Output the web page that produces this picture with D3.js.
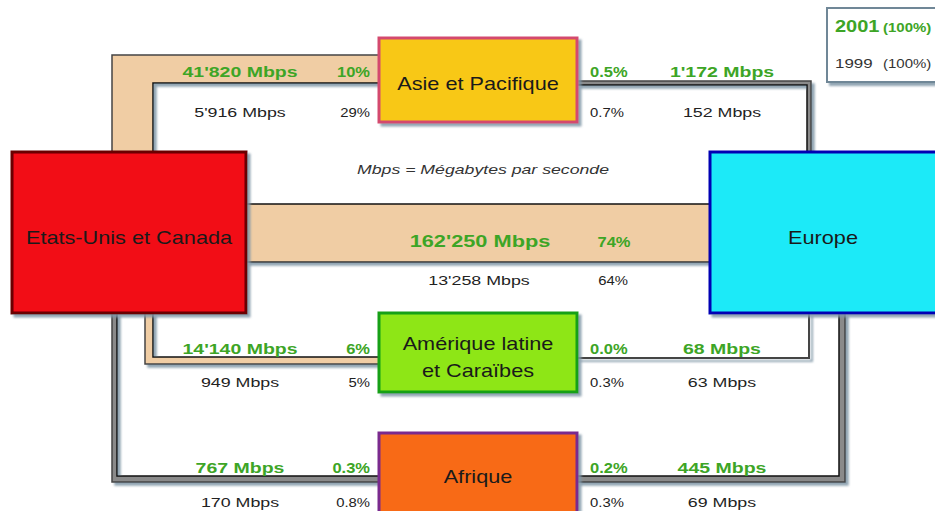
<!DOCTYPE html>
<html>
<head>
<meta charset="utf-8">
<script src="https://cdn.jsdelivr.net/npm/d3@7"></script>
<style>
  body { margin: 0; background: #fff; }
  svg { display: block; font-family: "Liberation Sans", Arial, sans-serif; }
</style>
</head>
<body>
<div id="chart"></div>
<script>
// data
var regions = ["Etats-Unis et Canada", "Europe", "Asie et Pacifique", "Amérique latine et Caraïbes", "Afrique"];
var flowFrom = ["Etats-Unis et Canada", "Asie et Pacifique", "Etats-Unis et Canada", "Etats-Unis et Canada", "Amérique latine et Caraïbes", "Etats-Unis et Canada", "Afrique"];
var flowTo = ["Asie et Pacifique", "Europe", "Europe", "Amérique latine et Caraïbes", "Europe", "Afrique", "Europe"];
var mbps2001 = [41820, 1172, 162250, 14140, 68, 767, 445];
var mbps1999 = [5916, 152, 13258, 949, 63, 170, 69];
var pct2001 = [10, 0.5, 74, 6, 0.0, 0.3, 0.2];
var pct1999 = [29, 0.7, 64, 5, 0.3, 0.8, 0.3];
var years = ["2001", "1999"];
var yearTotals = [100, 100];
var note = "Mbps = Mégabytes par seconde";

var width = 935, height = 511;
var green = "#3da526", tan = "#f0cda4";

// layout of boxes
var nodeBox = {
  "Etats-Unis et Canada": { x: 12, y: 152, w: 234, h: 161, fill: "#f20a14", stroke: "#6a0000", lines: ["Etats-Unis et Canada"], ty: 244 },
  "Europe": { x: 710, y: 152, w: 240, h: 161, fill: "#1eeaf8", stroke: "#0000b4", lines: ["Europe"], ty: 244, tx: 823 },
  "Asie et Pacifique": { x: 379, y: 38, w: 198, h: 84, fill: "#f8c818", stroke: "#d44a6e", lines: ["Asie et Pacifique"], ty: 90 },
  "Amérique latine et Caraïbes": { x: 379, y: 313, w: 198, h: 79, fill: "#8ee614", stroke: "#12a012", lines: ["Amérique latine", "et Caraïbes"], ty: 350 },
  "Afrique": { x: 379, y: 433, w: 198, h: 90, fill: "#f86a14", stroke: "#7a2a8e", lines: ["Afrique"], ty: 483 }
};

// layout of flow lanes (outer / inner corner of each elbow)
var lanes = [
  { type: "elbow", ox: 112, oy: 55, ix: 153, iy: 83, fill: tan, side: "left", gy: 77, by: 117 },
  { type: "elbow", ox: 811, oy: 81, ix: 807, iy: 85, fill: "#8a8a8a", side: "right", gy: 77, by: 117 },
  { type: "straight", y0: 204, y1: 262, fill: tan, side: "mid", gy: 247, by: 285 },
  { type: "elbow", ox: 145, oy: 364, ix: 153, iy: 357, fill: tan, side: "left", gy: 354, by: 387 },
  { type: "elbow", ox: 810, oy: 359, ix: 808, iy: 357, fill: "#444", side: "right", gy: 354, by: 387 },
  { type: "elbow", ox: 112, oy: 482, ix: 117, iy: 476, fill: "#8a8a8a", side: "left", gy: 473, by: 507 },
  { type: "elbow", ox: 845, oy: 482, ix: 839, iy: 476, fill: "#8a8a8a", side: "right", gy: 473, by: 507 }
];

var locale = d3.formatLocale({ decimal: ".", thousands: "'", grouping: [3], currency: ["", ""] });
var fmtNum = locale.format(",");
function fmtPct(v) { return (v >= 1 ? d3.format(".0f")(v) : d3.format(".1f")(v)) + "%"; }

var svg = d3.select("#chart").append("svg").attr("width", width).attr("height", height);

var defs = svg.append("defs");
var f = defs.append("filter").attr("id", "shadow").attr("x", "-10%").attr("y", "-10%").attr("width", "130%").attr("height", "130%");
f.append("feDropShadow").attr("dx", 3).attr("dy", 3).attr("stdDeviation", 0.8)
  .attr("flood-color", "#7f95a6").attr("flood-opacity", 0.85);

function label(g, x, y, str, o) {
  o = o || {};
  return g.append("text")
    .attr("transform", "translate(" + x + "," + y + ") scale(" + (o.sx || 1.3) + ",1)")
    .attr("text-anchor", o.anchor || "middle")
    .attr("font-size", o.size || 14)
    .attr("font-weight", o.weight || "normal")
    .attr("font-style", o.style || "normal")
    .attr("fill", o.fill || "#222")
    .text(str);
}

// flows
var flowG = svg.append("g");
var flows = flowFrom.map(function (s, i) {
  return { from: s, to: flowTo[i], v01: mbps2001[i], v99: mbps1999[i], p01: pct2001[i], p99: pct1999[i], lane: lanes[i] };
});

flows.forEach(function (d) {
  var L = d.lane, a = nodeBox[d.from], b = nodeBox[d.to];
  var g = flowG.append("g").attr("filter", "url(#shadow)");
  if (L.type === "straight") {
    g.append("rect").attr("x", a.x + a.w).attr("y", L.y0).attr("width", b.x - a.x - a.w).attr("height", L.y1 - L.y0).attr("fill", L.fill);
    g.append("line").attr("x1", a.x + a.w).attr("x2", b.x).attr("y1", L.y0).attr("y2", L.y0).attr("stroke", "#111").attr("stroke-width", 1.5);
    g.append("line").attr("x1", a.x + a.w).attr("x2", b.x).attr("y1", L.y1).attr("y2", L.y1).attr("stroke", "#333").attr("stroke-width", 1.5);
    return;
  }
  // node the lane leaves vertically from, and node it enters horizontally
  var vNode, hNode;
  if (L.side === "left") { vNode = a; hNode = b; } else { vNode = b; hNode = a; }
  var yA = L.oy < vNode.y ? vNode.y : vNode.y + vNode.h;
  var xB = L.ox < hNode.x ? hNode.x : hNode.x + hNode.w;
  var pts = [[L.ox, yA], [L.ox, L.oy], [xB, L.oy], [xB, L.iy], [L.ix, L.iy], [L.ix, yA]];
  g.append("path").attr("d", d3.line()(pts) + "Z").attr("fill", L.fill);
  if (L.fill !== "#444") {
    g.append("path").attr("d", d3.line()(pts.slice(0, 3))).attr("fill", "none").attr("stroke", "#444").attr("stroke-width", 1.5);
    g.append("path").attr("d", d3.line()(pts.slice(3))).attr("fill", "none").attr("stroke", "#111").attr("stroke-width", 1.5);
  }
});

// flow labels
var textG = svg.append("g");
flows.forEach(function (d) {
  var L = d.lane;
  if (L.side === "left") {
    label(textG, 240, L.gy, fmtNum(d.v01) + " Mbps", { fill: green, weight: "bold", size: 15 });
    label(textG, 370, L.gy, fmtPct(d.p01), { fill: green, weight: "bold", size: 15, anchor: "end", sx: 1.1 });
    label(textG, 240, L.by, fmtNum(d.v99) + " Mbps", { size: 13.5, sx: 1.32 });
    label(textG, 370, L.by, fmtPct(d.p99), { size: 13.5, anchor: "end", sx: 1.1 });
  } else if (L.side === "right") {
    label(textG, 590, L.gy, fmtPct(d.p01), { fill: green, weight: "bold", size: 15, anchor: "start", sx: 1.1 });
    label(textG, 722, L.gy, fmtNum(d.v01) + " Mbps", { fill: green, weight: "bold", size: 15 });
    label(textG, 590, L.by, fmtPct(d.p99), { size: 13.5, anchor: "start", sx: 1.1 });
    label(textG, 722, L.by, fmtNum(d.v99) + " Mbps", { size: 13.5, sx: 1.32 });
  } else {
    label(textG, 480, L.gy, fmtNum(d.v01) + " Mbps", { fill: green, weight: "bold", size: 16.5, sx: 1.32 });
    label(textG, 614, L.gy, fmtPct(d.p01), { fill: green, weight: "bold", size: 15, sx: 1.1 });
    label(textG, 479, L.by, fmtNum(d.v99) + " Mbps", { size: 13.5, sx: 1.32 });
    label(textG, 613, L.by, fmtPct(d.p99), { size: 13.5, sx: 1.1 });
  }
});

// region boxes
var nodeG = svg.append("g").selectAll("g").data(regions).join("g");
nodeG.append("rect")
  .attr("x", function (d) { return nodeBox[d].x; })
  .attr("y", function (d) { return nodeBox[d].y; })
  .attr("width", function (d) { return nodeBox[d].w; })
  .attr("height", function (d) { return nodeBox[d].h; })
  .attr("fill", function (d) { return nodeBox[d].fill; })
  .attr("stroke", function (d) { return nodeBox[d].stroke; })
  .attr("stroke-width", 3)
  .attr("filter", "url(#shadow)");
nodeG.each(function (d) {
  var n = nodeBox[d], g = d3.select(this);
  var lh = 27;
  n.lines.forEach(function (t, i) {
    label(g, n.tx || n.x + n.w / 2, n.ty + i * lh, t, { size: 17.5, sx: 1.24, fill: "#1a1a1a" });
  });
});

// note
label(svg, 483, 174, note, { size: 13.5, style: "italic", sx: 1.31, fill: "#333" });

// legend
var leg = svg.append("g");
leg.append("rect").attr("x", 827).attr("y", 8).attr("width", 115).attr("height", 74)
  .attr("fill", "#fff").attr("stroke", "#6f8797").attr("stroke-width", 2).attr("filter", "url(#shadow)");
years.forEach(function (y, i) {
  var yy = i === 0 ? 32 : 68;
  var first = i === 0;
  label(leg, 835, yy, y, { anchor: "start", size: first ? 16 : 13.5, weight: first ? "bold" : "normal", fill: first ? green : "#333", sx: 1.25 });
  label(leg, 883, yy, "(" + yearTotals[i] + "%)", { anchor: "start", size: 12.5, weight: first ? "bold" : "normal", fill: first ? green : "#333", sx: 1.2 });
});
</script>
</body>
</html>
